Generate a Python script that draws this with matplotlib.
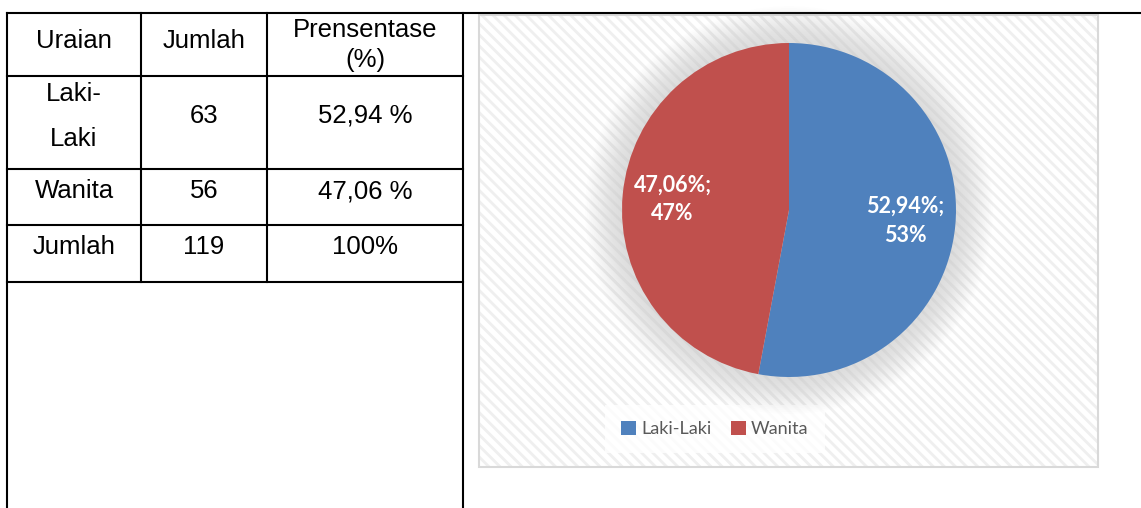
import matplotlib
matplotlib.use("Agg")
import matplotlib.pyplot as plt
from matplotlib.patches import Rectangle, Circle

# data
categories = ["Laki-Laki", "Wanita"]
counts = [63, 56]
percent_text = ["52,94 %", "47,06 %"]
total = 119
colors = ["#4F81BD", "#C0504D"]

W, H = 1141, 508
fig = plt.figure(figsize=(W / 100, H / 100), dpi=100)

# background axes in pixel coordinates
bg = fig.add_axes([0, 0, 1, 1])
bg.set_xlim(0, W)
bg.set_ylim(H, 0)
bg.axis("off")

lw = 1.5
# table lines
bg.plot([7, W], [13, 13], color="black", lw=lw)
for y in [76, 169, 225, 282]:
    bg.plot([7, 463], [y, y], color="black", lw=lw)
bg.plot([7, 7], [13, H], color="black", lw=lw)
bg.plot([463, 463], [13, H], color="black", lw=lw)
for x in [141, 267]:
    bg.plot([x, x], [13, 282], color="black", lw=lw)

tfont = dict(family="Liberation Sans", fontsize=18.5, ha="center", va="center", color="black")
bg.text(74, 41, "Uraian", **tfont)
bg.text(204, 41, "Jumlah", **tfont)
bg.text(365, 30, "Prensentase", **tfont)
bg.text(365, 60, "(%)", **tfont)
bg.text(74, 94, "Laki-", **tfont)
bg.text(74, 139, "Laki", **tfont)
bg.text(204, 116, str(counts[0]), **tfont)
bg.text(365, 116, percent_text[0], **tfont)
bg.text(74, 191, categories[1], **tfont)
bg.text(204, 191, str(counts[1]), **tfont)
bg.text(365, 191, percent_text[1], **tfont)
bg.text(74, 247, "Jumlah", **tfont)
bg.text(204, 247, str(total), **tfont)
bg.text(365, 247, "100%", **tfont)

# chart box with diagonal stripes
plt.rcParams["hatch.linewidth"] = 2.0
bg.add_patch(Rectangle((479, 15), 619, 452, facecolor="white", edgecolor="#EFEFEF",
                       hatch="\\\\\\", lw=0))
bg.add_patch(Rectangle((479, 15), 619, 452, facecolor="none", edgecolor="#D9D9D9", lw=1.5))

# pie axes: center (789, 210), radius 167 px
cx, cy, r = 789, 210, 167
lim = 1.35
half = r * lim
ax = fig.add_axes([(cx - half) / W, (H - cy - half) / H, 2 * half / W, 2 * half / H])
ax.set_xlim(-lim, lim)
ax.set_ylim(-lim, lim)
ax.axis("off")

# soft shadow glow
n = 20
for i in range(n):
    rad = 1.0 + 0.011 * (n - i)
    ax.add_patch(Circle((0, 0.0), rad, color="#B0B0B0", alpha=0.02, lw=0, zorder=0))


def fmt(p):
    return (f"{p:.2f}%;\n{p:.0f}%").replace(".", ",")


wedges, _, autotexts = ax.pie(counts, colors=colors, startangle=90, counterclock=False,
                              autopct=fmt, pctdistance=0.7, radius=1.0,
                              wedgeprops=dict(lw=0, zorder=2),
                              textprops=dict(color="white", fontsize=15.5, fontweight="bold",
                                             family="Lato", linespacing=1.45))
ax.set_xlim(-lim, lim)
ax.set_ylim(-lim, lim)

leg = bg.legend(wedges, categories, loc="center", bbox_to_anchor=(715 / W, 1 - 429 / H),
                bbox_transform=fig.transFigure, ncol=2, frameon=True, fancybox=False,
                handlelength=0.8, handleheight=0.8, handletextpad=0.3, columnspacing=1.1,
                prop=dict(family="Lato", size=13), labelcolor="#595959",
                borderpad=0.9)
leg.get_frame().set_facecolor("white")
leg.get_frame().set_alpha(0.8)
leg.get_frame().set_edgecolor("none")

fig.savefig("out.png", dpi=100)
